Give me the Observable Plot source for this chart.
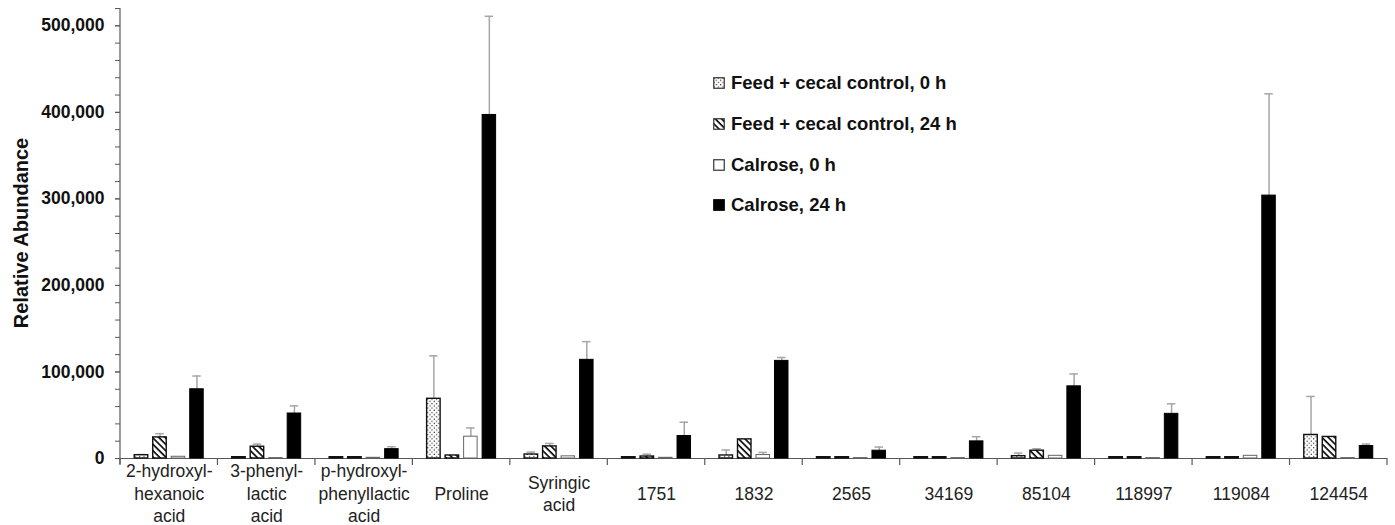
<!DOCTYPE html>
<html>
<head>
<meta charset="utf-8">
<script src="https://cdn.jsdelivr.net/npm/d3@7"></script>
<script src="https://cdn.jsdelivr.net/npm/@observablehq/plot@0.6"></script>
<style>
  body { margin: 0; background: #fff; font-family: "Liberation Sans", Arial, sans-serif; }
  #wrap { position: relative; width: 1395px; height: 525px; }
  #legend { position: absolute; left: 713px; top: 0; }
  .row { position: absolute; left: 0; white-space: nowrap; display: flex; align-items: center; height: 24px; }
  .row span { font-weight: bold; font-size: 18.5px; color: #111; margin-left: 6px; }
</style>
</head>
<body>
<svg width="0" height="0" style="position:absolute">
  <defs>
    <pattern id="dots" width="4.4" height="4.4" patternUnits="userSpaceOnUse">
      <rect width="4.4" height="4.4" fill="#fff"></rect>
      <circle cx="1.1" cy="1.1" r="0.6" fill="#000"></circle>
      <circle cx="3.3" cy="3.3" r="0.6" fill="#000"></circle>
    </pattern>
    <pattern id="hatch" width="4.5" height="4.5" patternUnits="userSpaceOnUse" patternTransform="rotate(-45)">
      <rect width="4.5" height="4.5" fill="#fff"></rect>
      <line x1="1" y1="0" x2="1" y2="4.5" stroke="#000" stroke-width="1.6"></line>
    </pattern>
  </defs>
</svg>
<div id="wrap">
  <div id="chart"></div>
  <div id="legend"></div>
</div>
<script>
const categories = ["2-hydroxyl-\nhexanoic\nacid", "3-phenyl-\nlactic\nacid", "p-hydroxyl-\nphenyllactic\nacid", "Proline", "Syringic\nacid", "1751", "1832", "2565", "34169", "85104", "118997", "119084", "124454"];
const series = ["Feed + cecal control, 0 h", "Feed + cecal control, 24 h", "Calrose, 0 h", "Calrose, 24 h"];

const feed0     = [3800, 1500, 1500, 69000, 4600, 1500, 3500, 1500, 1500, 2700, 1500, 1500, 27200];
const feed0Err  = [800, 0, 0, 49600, 2800, 0, 6300, 0, 0, 3500, 0, 0, 44500];
const feed24    = [24400, 13600, 1500, 3500, 14000, 2300, 22100, 1500, 1500, 9000, 1500, 1500, 24900];
const feed24Err = [4300, 3000, 0, 0, 3400, 2700, 0, 0, 0, 2300, 0, 0, 0];
const cal0      = [2000, 500, 800, 25200, 2500, 800, 4000, 500, 500, 3100, 500, 3100, 500];
const cal0Err   = [0, 0, 0, 10100, 0, 0, 3000, 0, 0, 0, 0, 0, 0];
const cal24     = [80000, 52000, 10800, 397000, 114000, 26000, 112800, 9000, 19800, 83400, 51600, 303800, 14400];
const cal24Err  = [15300, 8800, 2800, 114000, 21000, 15900, 3900, 4200, 5400, 14300, 11600, 117600, 2300];

const yTicksMajor = [0, 100000, 200000, 300000, 400000, 500000];
const yTicksMinor = d3.range(0, 520001, 20000);

const values = [feed0, feed24, cal0, cal24];
const errs = [feed0Err, feed24Err, cal0Err, cal24Err];
const fills = ["url(#dots)", "url(#hatch)", "#fff", "#000"];
const strokes = ["#111", "#111", "#666", "#000"];
const strokeWidths = [1.4, 1.4, 1, 1];

const data = [];
categories.forEach((c, i) => series.forEach((s, j) => data.push({category: c, series: s, value: values[j][i], err: errs[j][i]})));
const errData = data.filter(d => d.err > 0);

const barMarks = series.map((s, j) => Plot.barY(data.filter(d => d.series === s), {
  fx: "category", x: "series", y: "value",
  fill: fills[j], stroke: strokes[j], strokeWidth: strokeWidths[j]
}));

const plot = Plot.plot({
  width: 1395, height: 525,
  marginLeft: 120, marginRight: 8, marginTop: 8, marginBottom: 67,
  style: {fontFamily: "'Liberation Sans', Arial, sans-serif", color: "#111", background: "#fff"},
  fx: {domain: categories, padding: 0, round: false, label: null},
  x: {domain: series, paddingInner: 0.27, paddingOuter: 0.77, round: false, axis: null},
  y: {domain: [0, 520000], label: null},
  marks: [
    Plot.ruleY([0], {stroke: "#595959", strokeWidth: 1.2}),
    Plot.ruleX(errData, {fx: "category", x: "series", y1: "value", y2: d => d.value + d.err, stroke: "#a6a6a6", strokeWidth: 1.5}),
    Plot.tickY(errData, {fx: "category", x: "series", y: d => d.value + d.err, stroke: "#a6a6a6", strokeWidth: 1.5, insetLeft: 2.5, insetRight: 2.5}),
    ...barMarks,
    Plot.axisY({ticks: yTicksMinor, tickFormat: () => "", tickSize: 5, stroke: "#595959", label: null}),
    Plot.axisY({ticks: yTicksMajor, tickFormat: d3.format(","), tickSize: 5, tickPadding: 11, fontSize: 17.5, fontWeight: "bold", stroke: "#595959", label: null}),
    Plot.axisFx({anchor: "bottom", tickSize: 0, tickPadding: 0, dy: 34, lineAnchor: "middle", lineHeight: 1.27, fontSize: 17.5, fill: "#222", label: null, tickFormat: d => d})
  ]
});

document.getElementById("chart").appendChild(plot);

// axis line and category boundary ticks, positioned through the plot's scales
const fx = plot.scale("fx");
const ys = plot.scale("y");
const svg = d3.select(plot);
const y0 = ys.apply(0);
const yTop = ys.apply(520000);
const x0 = fx.apply(categories[0]);
const g = svg.append("g").attr("stroke", "#595959").attr("stroke-width", 1.2);
g.append("line").attr("x1", x0).attr("x2", x0).attr("y1", yTop).attr("y2", y0 + 6);
const edges = categories.map(c => fx.apply(c)).concat([fx.apply(categories[categories.length - 1]) + fx.bandwidth]);
edges.forEach(x => g.append("line").attr("x1", x).attr("x2", x).attr("y1", y0).attr("y2", y0 + 7));

// y-axis title
svg.append("text")
  .attr("transform", `translate(21,${(y0 + yTop) / 2}) rotate(-90)`)
  .attr("text-anchor", "middle").attr("dominant-baseline", "central")
  .attr("font-size", 20).attr("font-weight", "bold").attr("fill", "#111")
  .text("Relative Abundance");

// legend
const legendCenters = [83, 123.5, 164.5, 205];
const legend = document.getElementById("legend");
series.forEach((s, j) => {
  const row = document.createElement("div");
  row.className = "row";
  row.style.top = (legendCenters[j] - 12) + "px";
  row.innerHTML = `<svg width="12" height="12"><rect x="0.75" y="0.75" width="10.5" height="10.5" fill="${fills[j]}" stroke="${j === 3 ? '#000' : '#333'}" stroke-width="1.2"></rect></svg><span>${s}</span>`;
  legend.appendChild(row);
});
</script>
</body>
</html>
